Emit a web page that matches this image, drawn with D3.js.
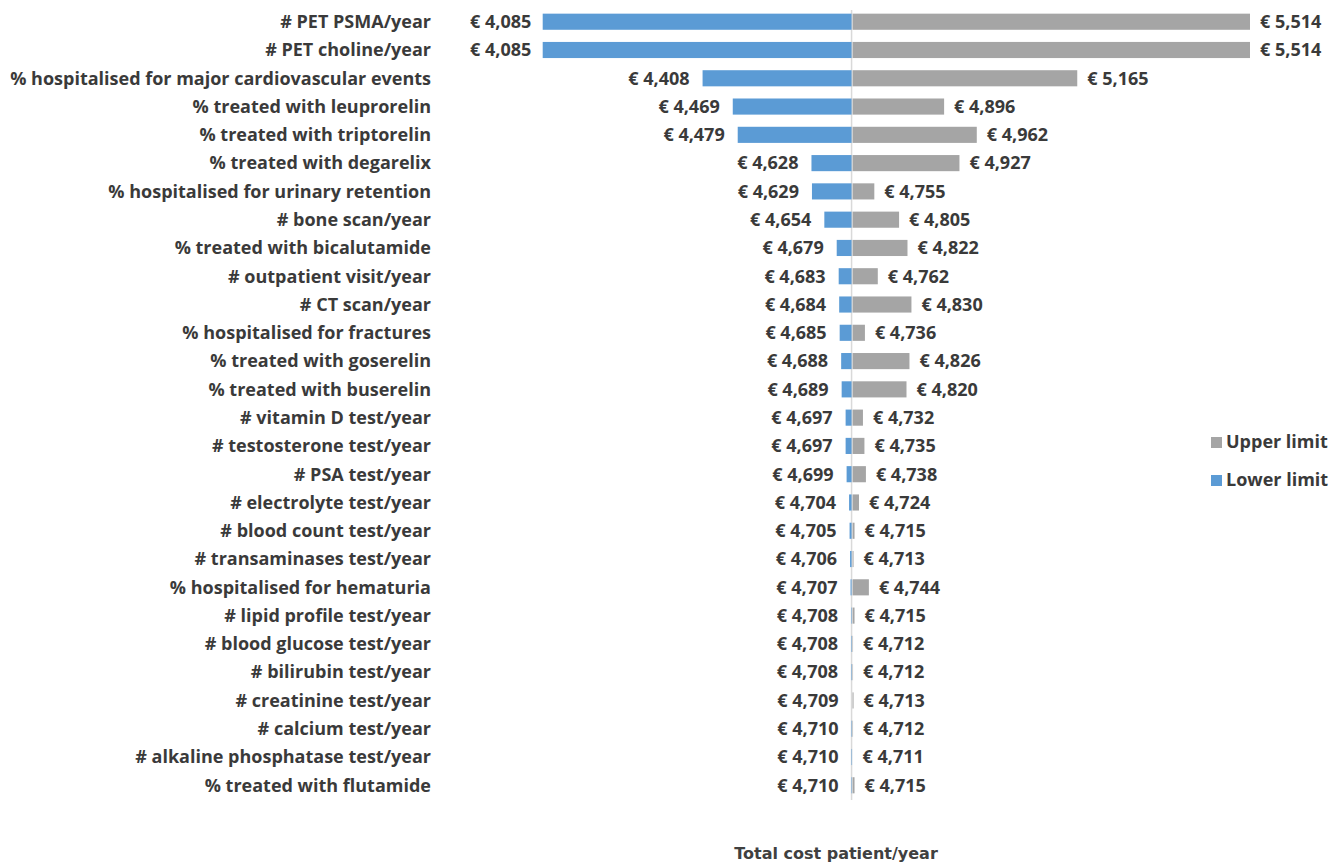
<!DOCTYPE html>
<html>
<head>
<meta charset="utf-8">
<script src="https://cdn.jsdelivr.net/npm/d3@7"></script>
<style>
  body { margin: 0; background: #fff; }
  text { font-family: "Open Sans", Lato, sans-serif; font-weight: bold; fill: #3a3a3a; }
</style>
</head>
<body>
<div id="chart"></div>
<script>
var svgWidth = 1331;
var svgHeight = 862;

var categories = [
  "# PET PSMA/year",
  "# PET choline/year",
  "% hospitalised for major cardiovascular events",
  "% treated with leuprorelin",
  "% treated with triptorelin",
  "% treated with degarelix",
  "% hospitalised for urinary retention",
  "# bone scan/year",
  "% treated with bicalutamide",
  "# outpatient visit/year",
  "# CT scan/year",
  "% hospitalised for fractures",
  "% treated with goserelin",
  "% treated with buserelin",
  "# vitamin D test/year",
  "# testosterone test/year",
  "# PSA test/year",
  "# electrolyte test/year",
  "# blood count test/year",
  "# transaminases test/year",
  "% hospitalised for hematuria",
  "# lipid profile test/year",
  "# blood glucose test/year",
  "# bilirubin test/year",
  "# creatinine test/year",
  "# calcium test/year",
  "# alkaline phosphatase test/year",
  "% treated with flutamide"
];

var lowerValues = [4085, 4085, 4408, 4469, 4479, 4628, 4629, 4654, 4679, 4683, 4684, 4685, 4688, 4689,
  4697, 4697, 4699, 4704, 4705, 4706, 4707, 4708, 4708, 4708, 4709, 4710, 4710, 4710];

var upperValues = [5514, 5514, 5165, 4896, 4962, 4927, 4755, 4805, 4822, 4762, 4830, 4736, 4826, 4820,
  4732, 4735, 4738, 4724, 4715, 4713, 4744, 4715, 4712, 4712, 4713, 4712, 4711, 4715];

var baseCost = 4709;
var axisTitle = "Total cost patient/year";
var legendLabels = ["Upper limit", "Lower limit"];

var blue = "#5b9bd5";
var grey = "#a5a5a5";

var rows = categories.map(function(c, i) {
  return {name: c, lower: lowerValues[i], upper: upperValues[i]};
});

var svg = d3.select("#chart").append("svg")
  .attr("width", svgWidth)
  .attr("height", svgHeight);

var xScale = d3.scaleLinear().domain([4085, 5514]).range([542.7, 1250]);
var yScale = d3.scaleBand().domain(categories).range([8, 799]).paddingInner(0.43).paddingOuter(0.2);

var fmt = function(v) { return "\u20ac " + d3.format(",")(v); };
var x0 = xScale(baseCost);

// vertical base line
svg.append("line")
  .attr("x1", x0).attr("x2", x0)
  .attr("y1", 10).attr("y2", 800)
  .attr("stroke", "#d9d9d9")
  .attr("stroke-width", 1.5);

// lower bars
svg.selectAll("rect.lower")
  .data(rows)
  .enter()
  .append("rect")
  .attr("class", "lower")
  .attr("x", function(d) { return Math.min(xScale(d.lower), x0); })
  .attr("y", function(d) { return yScale(d.name); })
  .attr("width", function(d) { return Math.abs(x0 - xScale(d.lower)); })
  .attr("height", yScale.bandwidth())
  .attr("fill", blue);

// upper bars
svg.selectAll("rect.upper")
  .data(rows)
  .enter()
  .append("rect")
  .attr("class", "upper")
  .attr("x", x0 + 1)
  .attr("y", function(d) { return yScale(d.name); })
  .attr("width", function(d) { return Math.max(0, xScale(d.upper) - x0 - 1); })
  .attr("height", yScale.bandwidth())
  .attr("fill", grey);

var mid = function(d) { return yScale(d.name) + yScale.bandwidth() / 2; };

// category labels
svg.append("g")
  .selectAll("text")
  .data(rows)
  .enter()
  .append("text")
  .attr("x", 431)
  .attr("y", mid)
  .attr("dy", "0.35em")
  .attr("text-anchor", "end")
  .style("font-size", "18px")
  .text(function(d) { return d.name; });

// lower value labels
svg.append("g")
  .selectAll("text")
  .data(rows)
  .enter()
  .append("text")
  .attr("x", function(d) { return Math.min(xScale(d.lower), x0) - 13; })
  .attr("y", mid)
  .attr("dy", "0.35em")
  .attr("text-anchor", "end")
  .style("font-size", "18px")
  .text(function(d) { return fmt(d.lower); })
  .each(function() {
    // keep label inside plot area like the original
    var w = this.getComputedTextLength();
    var x = +d3.select(this).attr("x");
    if (x - w < 470) d3.select(this).attr("x", 470 + w);
  });

// upper value labels
svg.append("g")
  .selectAll("text")
  .data(rows)
  .enter()
  .append("text")
  .attr("x", function(d) { return Math.max(xScale(d.upper), x0) + 10; })
  .attr("y", mid)
  .attr("dy", "0.35em")
  .style("font-size", "18px")
  .text(function(d) { return fmt(d.upper); });

// legend
var legend = svg.append("g").attr("transform", "translate(1211, 442)");
legend.selectAll("rect")
  .data([grey, blue])
  .enter()
  .append("rect")
  .attr("x", 0)
  .attr("y", function(d, i) { return i * 38 - 5; })
  .attr("width", 11)
  .attr("height", 11)
  .attr("fill", function(d) { return d; });
legend.selectAll("text")
  .data(legendLabels)
  .enter()
  .append("text")
  .attr("x", 15)
  .attr("y", function(d, i) { return i * 38; })
  .attr("dy", "0.35em")
  .style("font-size", "18px")
  .text(function(d) { return d; });

// axis title
svg.append("text")
  .attr("x", 836)
  .attr("y", 853)
  .attr("dy", "0.35em")
  .attr("text-anchor", "middle")
  .style("font-family", "'DejaVu Sans', sans-serif")
  .style("font-size", "16px")
  .style("fill", "#404040")
  .text(axisTitle);
</script>
</body>
</html>
